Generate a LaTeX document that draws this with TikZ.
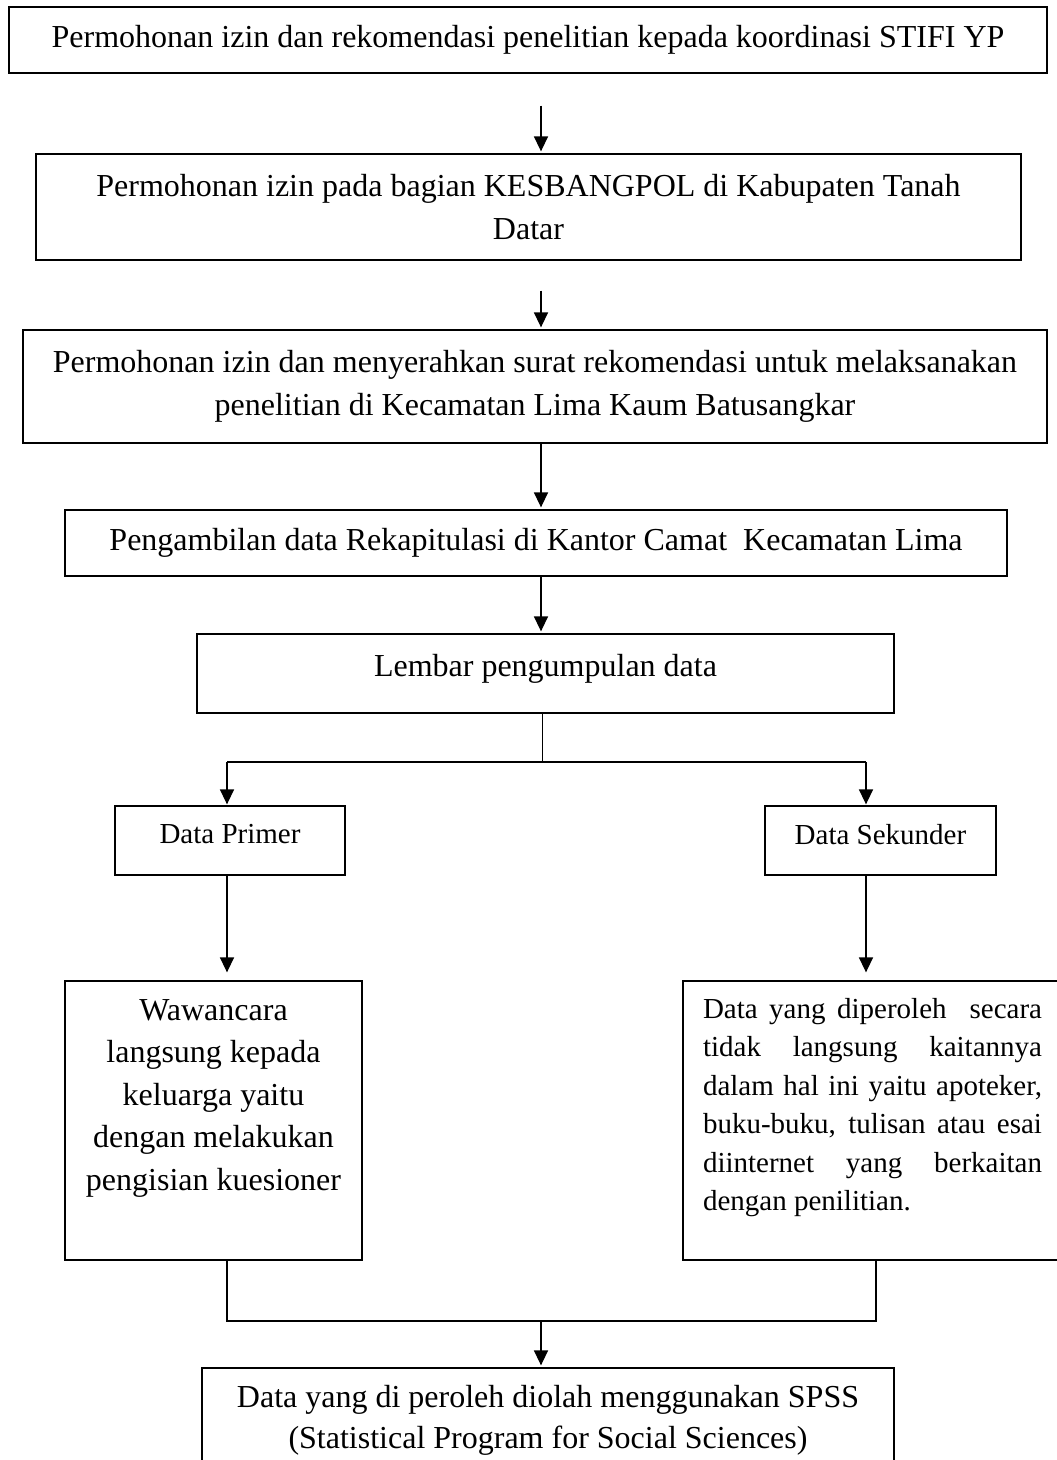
\documentclass[tikz,border=0pt]{standalone}
\usepackage{fontspec}
\setmainfont{Liberation Serif}
\usetikzlibrary{arrows.meta,calc}
\begin{document}
\begin{tikzpicture}[x=1pt,y=-1pt,
  box/.style={draw, line width=1.3pt, inner sep=0pt, align=center, font=\fontsize{32}{43}\selectfont},
  smallbox/.style={box, font=\fontsize{29}{38}\selectfont},
  pbox/.style={draw, line width=1.3pt, inner sep=0pt},
  arr/.style={line width=1.5pt, -{Triangle[width=14pt,length=15pt]}, shorten >=2pt},
  conn/.style={line width=1.5pt},
  thin/.style={line width=1pt}]
\useasboundingbox (0,0) rectangle (1057,1460);
\fill[white] (0,0) rectangle (1057,1460);
\clip (0,0) rectangle (1057,1460);

\node[box, minimum width=1038pt, minimum height=66pt] (b1) at (528,40)
  {Permohonan izin dan rekomendasi penelitian kepada koordinasi STIFI YP};
\node[box, minimum width=985pt, minimum height=106pt] (b2) at (528.5,207)
  {Permohonan izin pada bagian KESBANGPOL di Kabupaten Tanah\\Datar};
\node[box, minimum width=1024pt, minimum height=113pt] (b3) at (535,386.5)
  {Permohonan izin dan menyerahkan surat rekomendasi untuk melaksanakan\\penelitian di Kecamatan Lima Kaum Batusangkar};
\node[box, minimum width=942pt, minimum height=66pt] (b4) at (536,543)
  {Pengambilan data Rekapitulasi di Kantor Camat\ \ Kecamatan Lima};
\node[box, text depth=16pt, minimum width=697pt, minimum height=79pt] (b5) at (545.5,673.5)
  {Lembar pengumpulan data};
\node[smallbox, text depth=13pt, minimum width=230pt, minimum height=69pt] (b6) at (230,840.5)
  {Data Primer};
\node[smallbox, text depth=13pt, minimum width=231pt, minimum height=69pt] (b7) at (880.5,840.5)
  {Data Sekunder};
\node[pbox] (b8) at (213.5,1120.5)
  {\parbox[c][279pt][t]{297pt}{\fontsize{32}{42.5}\selectfont\centering\vspace*{18.5pt}Wawancara\\langsung kepada\\keluarga yaitu\\dengan melakukan\\pengisian kuesioner\par}};
\node[pbox] (b9) at (873,1120.5)
  {\parbox[c][279pt][t]{380pt}{\fontsize{29}{38.5}\selectfont\setlength{\leftskip}{20pt}\setlength{\parindent}{0pt}\vspace*{17.2pt}\noindent
  \makebox[339pt][s]{Data yang diperoleh\ \ secara}\\
  \makebox[339pt][s]{tidak langsung kaitannya}\\
  \makebox[339pt][s]{dalam hal ini yaitu apoteker,}\\
  \makebox[339pt][s]{buku-buku, tulisan atau esai}\\
  \makebox[339pt][s]{diinternet yang berkaitan}\\
  dengan penilitian.\par}};
\node[box, font=\fontsize{32}{41}\selectfont, minimum width=692pt, minimum height=104pt] (b10) at (548,1420)
  {Data yang di peroleh diolah menggunakan SPSS\\(Statistical Program for Social Sciences)};

\coordinate (ax) at (541,0);
\coordinate (sj) at (542,762);
\coordinate (sl) at (227,762);
\coordinate (sr) at (866,762);
\coordinate (ml) at (227,1321);
\coordinate (mr) at (876,1321);
\coordinate (mj) at (541,1321);

\draw[arr, shorten <=32pt] (b1.south -| ax) -- (b2.north -| ax);
\draw[arr, shorten <=30pt] (b2.south -| ax) -- (b3.north -| ax);
\draw[arr] (b3.south -| ax) -- (b4.north -| ax);
\draw[arr] (b4.south -| ax) -- (b5.north -| ax);
\draw[thin] (b5.south -| sj) -- (sj);
\draw[conn] (sl) -- (sr);
\draw[arr, shorten >=1pt] (sl) -- (sl |- b6.north);
\draw[arr, shorten >=1pt] (sr) -- (sr |- b7.north);
\draw[arr, shorten >=8pt] (b6.south -| sl) -- (b8.north -| sl);
\draw[arr, shorten >=8pt] (b7.south -| sr) -- (b9.north -| sr);
\draw[conn] (b8.south -| ml) -- (ml) -- (mr) -- (b9.south -| mr);
\draw[arr] (mj) -- (b10.north -| mj);
\end{tikzpicture}
\end{document}
